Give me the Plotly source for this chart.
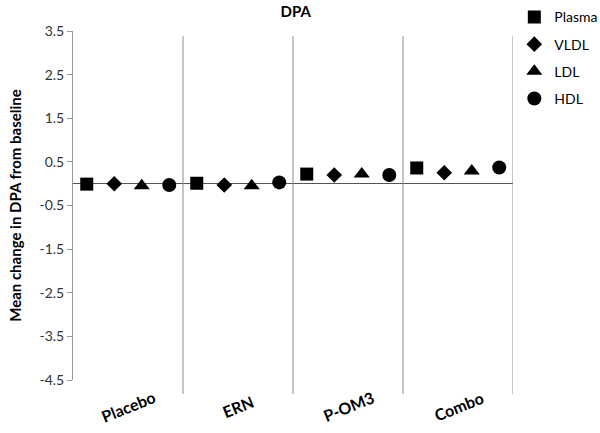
import plotly.graph_objects as go

groups = ["Placebo", "ERN", "P-OM3", "Combo"]
series_names = ["Plasma", "VLDL", "LDL", "HDL"]
plasma = [-0.01, 0.01, 0.22, 0.36]
vldl = [0.00, -0.03, 0.20, 0.25]
ldl = [-0.05, -0.05, 0.22, 0.29]
hdl = [-0.03, 0.03, 0.20, 0.37]
y_ticks = [3.5, 2.5, 1.5, 0.5, -0.5, -1.5, -2.5, -3.5, -4.5]

values = [plasma, vldl, ldl, hdl]
symbols = ["square", "diamond", "triangle-up", "circle"]
sizes = [13, 12, 14, 14]

font = "Lato, 'Open Sans', sans-serif"

fig = go.Figure()
for j, (name, vals) in enumerate(zip(series_names, values)):
    # each group has 4 slots, one per series
    xs = [4 * i + j + 0.5 for i in range(len(groups))]
    fig.add_trace(go.Scatter(
        x=xs, y=vals, mode="markers", name=name,
        legendgroup=name,
        marker=dict(symbol=symbols[j], size=sizes[j], color="black"),
    ))

# separators between groups
for i in range(1, len(groups) + 1):
    fig.add_shape(type="line", xref="x", yref="paper",
                  x0=4 * i, x1=4 * i, y0=-0.04, y1=0.985,
                  line=dict(color="#8c8c8c", width=1))

# category labels, centred under each group and tilted
for i, g in enumerate(groups):
    fig.add_annotation(x=4 * i + 2, y=-0.075, xref="x", yref="paper",
                       text=f"<b>{g}</b>", showarrow=False, textangle=-22,
                       xanchor="center", yanchor="middle",
                       font=dict(size=16))

fig.update_layout(
    width=600, height=433,
    margin=dict(l=73, r=87, t=31, b=53, autoexpand=False),
    paper_bgcolor="white", plot_bgcolor="white",
    font=dict(family=font, color="black", size=14),
    title=dict(text="<b>DPA</b>", x=0.493, xanchor="center",
               y=1 - 12 / 433, yanchor="middle", font=dict(size=15)),
    showlegend=True,
    legend=dict(x=1.003, y=1.085, xanchor="left", yanchor="top",
                tracegroupgap=6, font=dict(size=14), itemwidth=30),
)
fig.update_xaxes(range=[0, 16], showticklabels=False, showgrid=False,
                 zeroline=False, showline=False, ticks="")
fig.update_yaxes(range=[-4.5, 3.5], tickvals=y_ticks,
                 ticktext=[f"{v:g}" for v in y_ticks],
                 showgrid=False, showline=True, linecolor="#999999", linewidth=1,
                 ticks="outside", ticklen=5, tickcolor="#999999",
                 zeroline=True, zerolinecolor="#555555", zerolinewidth=1,
                 tickfont=dict(size=14, color="#333333"),
                 title=dict(text="Mean change in DPA from baseline", standoff=14,
                            font=dict(size=15, weight="bold")))

fig.write_html("out.html", config={"displayModeBar": False},
               post_script="document.body.style.margin='0';")
